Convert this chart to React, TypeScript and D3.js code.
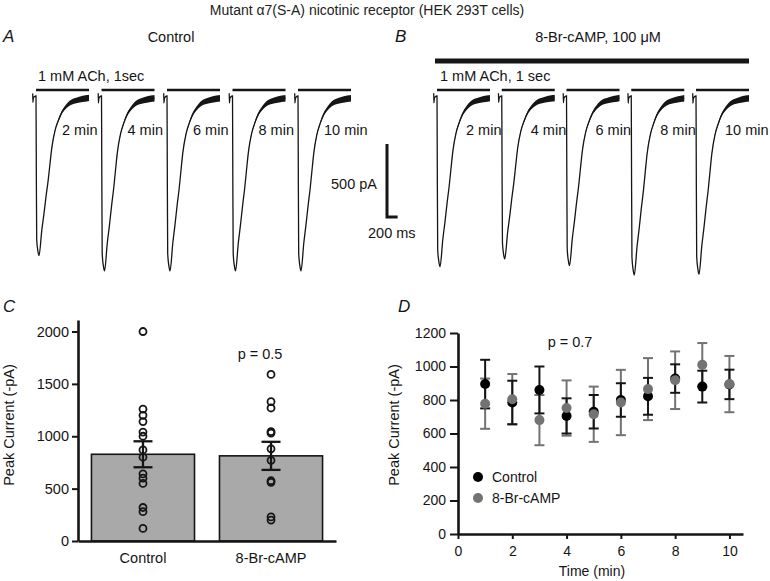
import { useEffect, useRef } from "react";
import * as d3 from "d3";

const FONT = "'Liberation Sans', Arial, Helvetica, sans-serif";
const INK = "#151515";
const GREY = "#737373";

// ---- panels A / B : current traces ----
const sweepLabels = ["2 min", "4 min", "6 min", "8 min", "10 min"];
const controlPeaks = [1100, 1205, 1205, 1205, 1205]; // pA, inward
const campPeaks = [1176, 1123, 1169, 1233, 1228];

// one sweep (ms, fraction of peak, noise pA)
const waveTime = [-62, -58, -50, -30, 0, 4, 13, 35, 57, 110, 150, 190, 230, 265, 300, 360, 420, 485, 560, 640, 800, 960, 1000];
const waveFrac = [-0.01, 0.045, 0.02, 0.01, 0.005, 0.3, 0.9, 0.97, 1.0, 0.84, 0.74, 0.63, 0.53, 0.425, 0.325, 0.22, 0.16, 0.11, 0.075, 0.05, 0.03, 0.02, 0.018];
const waveNoise = [0, 6, 4, 0, 0, 0, 0, 0, 0, 0, 0, 0, 0, 0, 3, 5, 8, 11, 14, 17, 20, 22, 22];

// ---- panel C ----
const groups = ["Control", "8-Br-cAMP"];
const groupMean = [828, 813];
const groupSem = [124, 134];
const controlCells = [2000, 1260, 1200, 1140, 1040, 1000, 870, 800, 640, 600, 550, 320, 280, 120];
const campCells = [1590, 1330, 1270, 1045, 1030, 880, 770, 575, 560, 230, 200];

// ---- panel D ----
const minutes = [1, 2, 3, 4, 5, 6, 7, 8, 9, 10];
const controlMean = [895, 785, 860, 705, 730, 800, 822, 928, 880, 893];
const controlSem = [145, 130, 140, 105, 100, 100, 110, 85, 95, 88];
const campMean = [778, 805, 680, 752, 715, 785, 865, 918, 1010, 895];
const campSem = [150, 150, 150, 165, 165, 195, 185, 172, 130, 168];

const xTime = d3.scaleLinear().domain([0, 1000]).range([0, 53]);
const yCur = d3.scaleLinear().domain([0, 500]).range([95, 168]);
const onsetA = d3.scaleLinear().domain([0, 4]).range([36, 298]);
const onsetB = d3.scaleLinear().domain([0, 4]).range([437, 696]);

const idx = waveTime.map((_, i) => i);

function Sweeps({ onset, peaks, labelDx }: { onset: d3.ScaleLinear<number, number>; peaks: number[]; labelDx: number }) {
  return (
    <g>
      {peaks.map((peak, k) => {
        const x0 = onset(k);
        const line = d3
          .line<number>()
          .x((i) => x0 + xTime(waveTime[i]))
          .y((i) => yCur(waveFrac[i] * peak))
          .curve(d3.curveMonotoneX);
        const band = d3
          .area<number>()
          .x((i) => x0 + xTime(waveTime[i]))
          .y0((i) => yCur(waveFrac[i] * peak - waveNoise[i]))
          .y1((i) => yCur(waveFrac[i] * peak + waveNoise[i]))
          .curve(d3.curveMonotoneX);
        return (
          <g key={k}>
            <line x1={x0} x2={x0 + xTime(1000)} y1={90} y2={90} stroke={INK} strokeWidth={2.5} />
            <path d={line(idx) || ""} fill="none" stroke={INK} strokeWidth={1.3} />
            <path d={band(idx.slice(0, 4)) || ""} fill={INK} />
            <path d={band(idx.slice(13)) || ""} fill={INK} />
            <text x={x0 + labelDx} y={135}>{sweepLabels[k]}</text>
          </g>
        );
      })}
    </g>
  );
}

const yC = d3.scaleLinear().domain([0, 2110]).range([541, 320]);
const xC = d3.scaleBand<string>().domain(groups).range([78, 336]).paddingInner(0.195).paddingOuter(0.105);
const xD = d3.scaleLinear().domain([0, 10.5]).range([458, 743]);
const yD = d3.scaleLinear().domain([0, 1200]).range([534, 333]);

function styleAxis(g: d3.Selection<SVGGElement, unknown, null, undefined>, fs: number) {
  g.attr("font-size", fs).attr("font-family", FONT);
  g.select(".domain").attr("stroke", INK).attr("stroke-width", 2.6);
  g.selectAll(".tick line").attr("stroke", INK).attr("stroke-width", 2);
  g.selectAll(".tick text").attr("fill", INK);
}

export default function App() {
  const cY = useRef<SVGGElement>(null);
  const cX = useRef<SVGGElement>(null);
  const dY = useRef<SVGGElement>(null);
  const dX = useRef<SVGGElement>(null);

  useEffect(() => {
    const plain = d3.format("d");
    styleAxis(
      d3.select(cY.current!).call(
        d3.axisLeft(yC).tickValues([0, 500, 1000, 1500, 2000]).tickFormat(plain).tickSize(6).tickSizeOuter(0).tickPadding(3)
      ),
      14.5
    );
    styleAxis(d3.select(cX.current!).call(d3.axisBottom(xC).tickSize(0).tickSizeOuter(0).tickPadding(12)), 14.5);
    styleAxis(
      d3.select(dY.current!).call(
        d3.axisLeft(yD).tickValues([0, 200, 400, 600, 800, 1000, 1200]).tickFormat(plain).tickSize(8).tickSizeOuter(0).tickPadding(4)
      ),
      14
    );
    styleAxis(
      d3.select(dX.current!).call(
        d3.axisBottom(xD).tickValues([0, 2, 4, 6, 8, 10]).tickFormat(plain).tickSize(5).tickSizeOuter(0).tickPadding(7)
      ),
      14
    );
  }, []);

  const cells = [controlCells, campCells];

  const whiskers = (means: number[], sems: number[], color: string) =>
    minutes.map((m, i) => {
      const x = xD(m);
      const hi = yD(means[i] + sems[i]);
      const lo = yD(means[i] - sems[i]);
      return (
        <g key={m} stroke={color} strokeWidth={2}>
          <line x1={x} x2={x} y1={hi} y2={lo} />
          <line x1={x - 5} x2={x + 5} y1={hi} y2={hi} />
          <line x1={x - 5} x2={x + 5} y1={lo} y2={lo} />
        </g>
      );
    });

  return (
    <svg width={770} height={581} style={{ position: "absolute", left: 0, top: 0, background: "#fff" }} fontFamily={FONT} fontSize={14.5} fill={INK}>
      <text x={367} y={15} textAnchor="middle" fontSize={14} fill="#222">
        Mutant α7(S-A) nicotinic receptor (HEK 293T cells)
      </text>

      {/* A */}
      <text x={3} y={42} fontSize={17} fontStyle="italic">A</text>
      <text x={171} y={42} textAnchor="middle">Control</text>
      <text x={38} y={81}>1 mM ACh, 1sec</text>
      <Sweeps onset={onsetA} peaks={controlPeaks} labelDx={26} />

      {/* scale bar */}
      <path d={`M387,${yCur(0) + 49}V${yCur(500) + 49}H${387 + xTime(200)}`} fill="none" stroke={INK} strokeWidth={3} />
      <text x={377} y={188.5} textAnchor="end">500 pA</text>
      <text x={368} y={238}>200 ms</text>

      {/* B */}
      <text x={395} y={42} fontSize={17} fontStyle="italic">B</text>
      <text x={598} y={42} textAnchor="middle">8-Br-cAMP, 100 μM</text>
      <line x1={435} x2={749} y1={61} y2={61} stroke={INK} strokeWidth={5} />
      <text x={440} y={81}>1 mM ACh, 1 sec</text>
      <Sweeps onset={onsetB} peaks={campPeaks} labelDx={29} />

      {/* C */}
      <text x={3} y={312} fontSize={17} fontStyle="italic">C</text>
      <text transform="translate(14,425) rotate(-90)" textAnchor="middle">Peak Current (-pA)</text>
      {groups.map((g, i) => (
        <rect key={g} x={xC(g)} y={yC(groupMean[i])} width={xC.bandwidth()} height={yC(0) - yC(groupMean[i])} fill="#a9a9a9" stroke={INK} strokeWidth={1.6} />
      ))}
      {groups.map((g, i) => {
        const cx = (xC(g) || 0) + xC.bandwidth() / 2;
        const hi = yC(groupMean[i] + groupSem[i]);
        const lo = yC(groupMean[i] - groupSem[i]);
        return (
          <g key={g}>
            <g stroke={INK} strokeWidth={2.3}>
              <line x1={cx} x2={cx} y1={hi} y2={lo} />
              <line x1={cx - 9.5} x2={cx + 9.5} y1={hi} y2={hi} />
              <line x1={cx - 9.5} x2={cx + 9.5} y1={lo} y2={lo} />
            </g>
            {cells[i].map((v, j) => (
              <circle key={j} cx={cx} cy={yC(v)} r={3.5} fill="none" stroke={INK} strokeWidth={1.8} />
            ))}
          </g>
        );
      })}
      <g ref={cY} transform="translate(78,0)" />
      <g ref={cX} transform="translate(0,541)" />
      <text x={260} y={359} textAnchor="middle">p = 0.5</text>

      {/* D */}
      <text x={398} y={312} fontSize={17} fontStyle="italic">D</text>
      <text transform="translate(399,425) rotate(-90)" textAnchor="middle">Peak Current (-pA)</text>
      <text x={570} y={347} textAnchor="middle">p = 0.7</text>
      {whiskers(campMean, campSem, GREY)}
      {whiskers(controlMean, controlSem, INK)}
      {minutes.map((m, i) => (
        <circle key={"c" + m} cx={xD(m)} cy={yD(controlMean[i])} r={5} fill="#000" />
      ))}
      {minutes.map((m, i) => (
        <circle key={"b" + m} cx={xD(m)} cy={yD(campMean[i])} r={5} fill={GREY} />
      ))}
      <g ref={dY} transform="translate(458,0)" />
      <g ref={dX} transform="translate(0,534)" />
      <text x={592} y={576} textAnchor="middle" fontSize={14}>Time (min)</text>

      <circle cx={478} cy={477} r={5} fill="#000" />
      <text x={492} y={482} fontSize={14}>Control</text>
      <circle cx={478} cy={498} r={5} fill={GREY} />
      <text x={492} y={503} fontSize={14}>8-Br-cAMP</text>
    </svg>
  );
}
